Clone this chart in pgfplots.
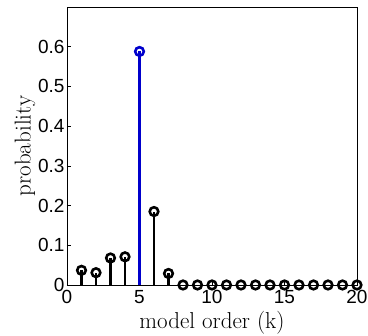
\documentclass[border=0pt]{standalone}
\usepackage{fontspec}
\usepackage{pgfplots}
\pgfplotsset{compat=1.18}
\newfontfamily\hv{Liberation Sans}
\begin{document}
\begin{tikzpicture}
\useasboundingbox (-67pt,-51pt) rectangle (301pt,285pt);
\begin{axis}[
  scale only axis,
  at={(0,0)}, anchor=south west,
  width=290pt, height=278pt,
  xmin=0, xmax=20, ymin=0, ymax=0.7,
  xtick={0,5,10,15,20},
  ytick={0,0.1,0.2,0.3,0.4,0.5,0.6},
  yticklabel style={/pgf/number format/fixed, xshift=1pt},
  xticklabel style={yshift=-2pt},
  /pgf/number format/assume math mode=true,
  tick label style={font=\hv\fontsize{19}{19}\selectfont},
  tick align=inside,
  major tick length=4pt,
  tick style={black, line width=0.5pt},
  xtick pos=bottom, ytick pos=left,
  axis line style={line width=0.6pt},
  xlabel={model order (k)},
  ylabel={probability},
  label style={font=\fontsize{23}{23}\selectfont},
  xlabel style={at={(axis description cs:0.5,0)}, anchor=center, yshift=-38pt},
  ylabel style={at={(axis description cs:-0.145,0.5)}, anchor=center},
  clip=false,
]
\addplot[ycomb, black, line width=2.4pt, mark=o, mark size=4.3pt, mark options={line width=2.6pt}]
coordinates {(1,0.037) (2,0.031) (3,0.068) (4,0.071) (6,0.185) (7,0.029)
(8,0) (9,0) (10,0) (11,0) (12,0) (13,0) (14,0) (15,0) (16,0) (17,0) (18,0) (19,0) (20,0)};
\addplot[ycomb, blue!80!black, line width=2.4pt, mark=o, mark size=4.3pt, mark options={line width=2.6pt}]
coordinates {(5,0.588)};
\end{axis}
\end{tikzpicture}
\end{document}
